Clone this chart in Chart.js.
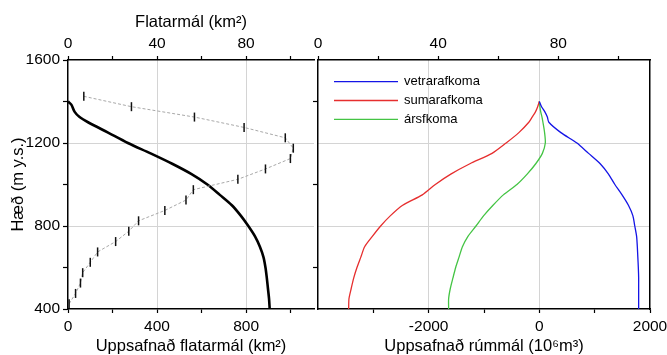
<!DOCTYPE html>
<html>
<head>
<meta charset="utf-8">
<script src="https://cdn.jsdelivr.net/npm/chart.js@4.4.1/dist/chart.umd.min.js"></script>
<style>
  html, body { margin: 0; padding: 0; background: #fff; }
  #wrap { position: relative; width: 667px; height: 355px; overflow: hidden; }
  #areaChart { position: absolute; left: 0; top: 0; }
  #volumeChart { position: absolute; left: 300px; top: 0; }
</style>
</head>
<body>
<div id="wrap">
  <canvas id="areaChart" width="320" height="355"></canvas>
  <canvas id="volumeChart" width="367" height="355"></canvas>
</div>
<script>
/* =========================================================
DATA
========================================================= */

// cumulative area (km2) vs elevation (m a.s.l.)
const cumElev = [1400, 1385, 1350, 1325, 1300, 1250, 1200, 1150, 1100, 1050, 1000, 950, 900, 850, 800, 750, 700, 650, 600, 550, 500, 450, 400];
const cumArea = [0, 15, 30, 52, 90, 180, 269, 371, 468, 555, 626, 682, 736, 776, 810, 840, 862, 878, 887, 893, 898, 903, 906];

// area of each 50 m band (km2), top axis
const bandElev = [1425, 1375, 1325, 1275, 1225, 1175, 1125, 1075, 1025, 975, 925, 875, 825, 775, 725, 675, 625, 575, 525, 475, 425];
const bandArea = [7.1, 28.5, 56.8, 79.1, 97.6, 101.2, 99.9, 88.7, 76.3, 56.3, 53.0, 43.5, 31.7, 27.3, 21.4, 13.3, 10.0, 6.6, 5.6, 3.4, 0.5];

// cumulative volume (10^6 m3) vs elevation
const volElev = [1400, 1375, 1350, 1325, 1300, 1250, 1200, 1150, 1100, 1050, 1000, 950, 900, 850, 800, 750, 700, 650, 600, 550, 500, 450, 400];
const winterVol = [0, 40, 100, 145, 172, 390, 680, 890, 1100, 1250, 1365, 1495, 1610, 1690, 1725, 1758, 1771, 1780, 1789, 1795, 1795, 1795, 1795];
const summerVol = [0, -30, -70, -130, -190, -370, -600, -855, -1255, -1600, -1880, -2115, -2470, -2690, -2868, -3018, -3157, -3226, -3296, -3354, -3399, -3440, -3446];
const annualVol = [0, 10, 25, 48, 65, 95, 108, 55, -65, -220, -405, -650, -837, -1005, -1145, -1290, -1390, -1451, -1512, -1561, -1608, -1639, -1639];

const seriesNames = ["vetrarafkoma", "sumarafkoma", "ársfkoma"];
const seriesColors = ["#1414e6", "#e62e2e", "#44c444"];

// ticks
const elevTicks = [400, 800, 1200, 1600];
const elevMinor = [600, 1000, 1400];
const elevGrid = [800, 1200];

const areaTicks = [0, 400, 800];
const areaMinor = [200, 600, 1000];
const areaGrid = [400, 800];

const bandTicks = [0, 40, 80];
const bandMinor = [20, 60, 100];

const volTicks = [-2000, 0, 2000];
const volMinor = [-3000, -1000, 1000];
const volGrid = [-2000, 0];

/* =========================================================
HELPERS
========================================================= */

Chart.defaults.font.family = "'Liberation Sans', Arial, sans-serif";
Chart.defaults.color = "#000";

const tickFont = { size: 15.5 };
const titleFont = { size: 16.5, lineHeight: 1 };
const GRID = "#d4d4d4";

function fixedSize(size) {
  return (scale) => {
    if (scale.isHorizontal()) scale.height = size;
    else scale.width = size;
    scale.paddingLeft = 0;
    scale.paddingRight = 0;
    scale.paddingTop = 0;
    scale.paddingBottom = 0;
  };
}

function setTicks(major, minor) {
  return (scale) => {
    scale.ticks = major
      .concat(minor)
      .sort((a, b) => a - b)
      .map((v) => ({ value: v }));
  };
}

function gridColor(values) {
  return (ctx) => (ctx.tick && values.includes(ctx.tick.value) ? GRID : "rgba(0,0,0,0)");
}

function axis(opts) {
  return {
    type: "linear",
    position: opts.position,
    min: opts.min,
    max: opts.max,
    bounds: "data",
    afterBuildTicks: setTicks(opts.major || [], opts.minor || []),
    afterFit: fixedSize(opts.size),
    ticks: {
      display: opts.labels !== false,
      autoSkip: false,
      maxRotation: 0,
      padding: opts.padding || 3,
      font: tickFont,
      color: "#000",
      callback: (v) => ((opts.major || []).includes(v) ? String(v) : ""),
    },
    grid: {
      color: gridColor(opts.grid || []),
      drawOnChartArea: !!opts.grid,
      drawTicks: opts.drawTicks !== false,
      tickColor: "#000",
      tickWidth: 1.2,
      tickLength: opts.tickLength || 4,
      lineWidth: 1,
    },
    border: { display: true, color: "#000", width: 1.5 },
    title: opts.title
      ? { display: true, text: opts.title, font: titleFont, color: "#000", padding: opts.titlePad }
      : { display: false },
  };
}

function points(xs, ys) {
  return ys.map((y, i) => ({ x: xs[i], y: y }));
}

/* =========================================================
LEFT PANEL - AREA
========================================================= */

new Chart(document.getElementById("areaChart"), {
  type: "scatter",
  data: {
    datasets: [
      {
        label: "Flatarmál",
        data: points(bandArea, bandElev),
        xAxisID: "xTop",
        yAxisID: "y",
        showLine: true,
        borderColor: "#a8a8a8",
        borderWidth: 1,
        borderDash: [3, 2],
        pointStyle: "line",
        pointRotation: 90,
        pointRadius: 4.5,
        pointBorderColor: "#111",
        pointBorderWidth: 1.5,
      },
      {
        label: "Uppsafnað flatarmál",
        data: points(cumArea, cumElev),
        xAxisID: "x",
        yAxisID: "y",
        showLine: true,
        borderColor: "#000",
        borderWidth: 2.6,
        pointRadius: 0,
        tension: 0.3,
      },
    ],
  },
  options: {
    responsive: false,
    devicePixelRatio: 1,
    animation: false,
    events: [],
    layout: { padding: { left: 0, right: 2, top: 0, bottom: 0 } },
    plugins: { legend: { display: false }, tooltip: { enabled: false } },
    scales: {
      y: axis({
        position: "left", min: 400, max: 1600, size: 68,
        major: elevTicks, minor: elevMinor, grid: elevGrid,
        tickLength: 5, padding: 3,
        title: "Hæð (m y.s.)", titlePad: { top: 10, bottom: 0 },
      }),
      x: axis({
        position: "bottom", min: 0, max: 1105, size: 46,
        major: areaTicks, minor: areaMinor, grid: areaGrid,
        padding: 4,
        title: "Uppsafnað flatarmál (km²)", titlePad: { top: 0, bottom: 0 },
      }),
      xTop: axis({
        position: "top", min: 0, max: 110.5, size: 60,
        major: bandTicks, minor: bandMinor,
        padding: 3,
        title: "Flatarmál (km²)", titlePad: { top: 14, bottom: 0 },
      }),
    },
  },
});

/* =========================================================
RIGHT PANEL - VOLUME
========================================================= */

const insideLegend = {
  id: "insideLegend",
  afterDatasetsDraw(chart) {
    const ctx = chart.ctx;
    const area = chart.chartArea;
    ctx.save();
    ctx.font = "13px 'Liberation Sans', Arial, sans-serif";
    ctx.textBaseline = "middle";
    ctx.fillStyle = "#000";
    chart.data.datasets.forEach((ds, i) => {
      const y = area.top + 21.7 + i * 18.8;
      ctx.strokeStyle = ds.borderColor;
      ctx.lineWidth = ds.borderWidth;
      ctx.beginPath();
      ctx.moveTo(area.left + 16, y);
      ctx.lineTo(area.left + 80, y);
      ctx.stroke();
      ctx.fillText(ds.label, area.left + 86, y);
    });
    ctx.restore();
  },
};

const volSeries = [winterVol, summerVol, annualVol];

new Chart(document.getElementById("volumeChart"), {
  type: "scatter",
  data: {
    datasets: volSeries.map((vals, i) => ({
      label: seriesNames[i],
      data: points(vals, volElev),
      xAxisID: "x",
      yAxisID: "y",
      showLine: true,
      borderColor: seriesColors[i],
      borderWidth: 1.3,
      pointRadius: 0,
      tension: 0.25,
    })),
  },
  options: {
    responsive: false,
    devicePixelRatio: 1,
    animation: false,
    events: [],
    layout: { padding: { left: 0, right: 17, top: 0, bottom: 0 } },
    plugins: { legend: { display: false }, tooltip: { enabled: false } },
    scales: {
      y: axis({
        position: "left", min: 400, max: 1600, size: 18,
        major: [], minor: elevMinor, labels: false, tickLength: 5,
      }),
      yRight: axis({
        position: "right", min: 400, max: 1600, size: 0,
        major: [], minor: elevGrid, grid: elevGrid, labels: false, drawTicks: false,
      }),
      x: axis({
        position: "bottom", min: -4000, max: 2000, size: 46,
        major: volTicks, minor: volMinor, grid: volGrid,
        padding: 4,
        title: "Uppsafnað rúmmál (10⁶m³)", titlePad: { top: 0, bottom: 0 },
      }),
      xTop: axis({
        position: "top", min: 0, max: 110.5, size: 60,
        major: bandTicks, minor: bandMinor,
        padding: 3,
      }),
    },
  },
  plugins: [insideLegend],
});
</script>
</body>
</html>
